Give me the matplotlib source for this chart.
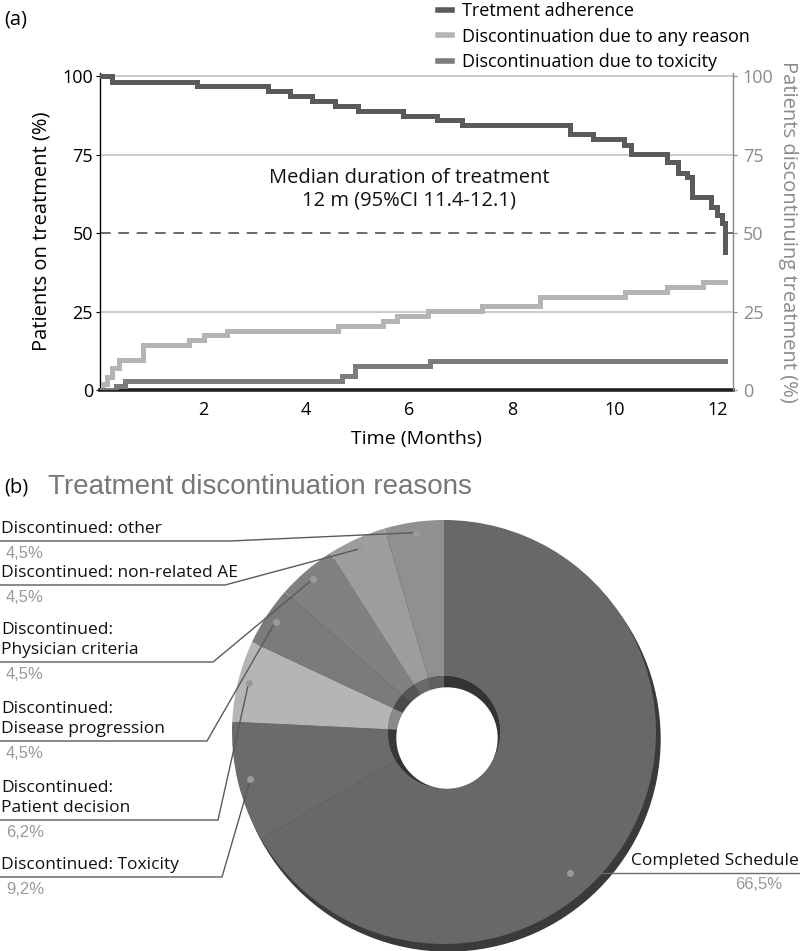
import numpy as np
import matplotlib
matplotlib.use("Agg")
import matplotlib.pyplot as plt
from matplotlib.lines import Line2D
from matplotlib.patches import Circle

# ---- panel (a): step curves (months, %) ----
adh_t = [0, 0.23, 1.88, 3.27, 3.69, 4.11, 4.56, 5.01, 5.89, 6.55, 7.02, 9.13, 9.57,
         10.17, 10.30, 11.00, 11.22, 11.39, 11.49, 11.87, 11.97, 12.07, 12.14]
adh_v = [100, 98.2, 96.9, 95.3, 93.7, 92.1, 90.5, 88.9, 87.4, 85.9, 84.4, 81.5, 79.9,
         78.0, 75.1, 72.7, 69.0, 67.9, 61.6, 58.4, 55.7, 53.1, 44.0]

any_t = [0, 0.06, 0.14, 0.24, 0.36, 0.84, 1.72, 2.01, 2.46, 4.63, 5.50, 5.76, 6.37,
         7.41, 8.54, 10.19, 11.00, 11.71, 12.14]
any_v = [0, 2.0, 4.0, 7.0, 9.5, 14.3, 16.0, 17.5, 18.8, 20.4, 22.0, 23.6, 25.2,
         26.8, 29.5, 31.1, 32.7, 34.3, 34.3]

tox_t = [0, 0.32, 0.49, 4.69, 4.95, 6.41, 12.14]
tox_v = [0, 1.3, 3.0, 4.6, 7.6, 9.3, 9.3]

series_names = ["Tretment adherence", "Discontinuation due to any reason",
                "Discontinuation due to toxicity"]
series_colors = ["#5a5a5a", "#b4b4b4", "#7c7c7c"]

# ---- panel (b): discontinuation reasons ----
reasons = ["Completed Schedule", "Discontinued: Toxicity", "Discontinued:\nPatient decision",
           "Discontinued:\nDisease progression", "Discontinued:\nPhysician criteria",
           "Discontinued: non-related AE", "Discontinued: other"]
shares = [66.5, 9.2, 6.2, 4.5, 4.5, 4.5, 4.5]
share_text = ["66,5%", "9,2%", "6,2%", "4,5%", "4,5%", "4,5%", "4,5%"]
wedge_colors = ["#686868", "#6b6b6b", "#b5b5b5", "#7b7b7b", "#818181", "#9d9d9d", "#909090"]
rim_colors = ["#333333", "#383838", "#8a8a8a", "#4a4a4a", "#555555", "#6a6a6a", "#606060"]

W, H = 800, 951
body = ["Open Sans", "DejaVu Sans"]
arial = ["Liberation Sans", "DejaVu Sans"]

plt.rcParams["font.family"] = body

fig = plt.figure(figsize=(W / 100, H / 100), dpi=100)


def fx(x):
    return x / W


def fy(y):
    return 1 - y / H


# ================= panel (a) =================
ax = fig.add_axes([fx(100), fy(390), (733 - 100) / W, (390 - 73) / H])
ax.set_xlim(0, 12.29)
ax.set_ylim(0, 101)

for yy in (25, 75, 100):
    ax.axhline(yy, color="#c8c8c8", lw=1.3, zorder=1)
ax.axhline(50, color="#444444", lw=1.1, ls=(0, (7, 5)), zorder=1)

for t, v, c in zip((adh_t, any_t, tox_t), (adh_v, any_v, tox_v), series_colors):
    ax.step(t, v, where="post", color=c, lw=3.6, zorder=3, solid_joinstyle="miter")

ax.spines["top"].set_visible(False)
ax.spines["right"].set_visible(False)
ax.spines["left"].set_linewidth(1.0)
ax.spines["bottom"].set_linewidth(2.6)
ax.spines["bottom"].set_color("#222222")

ax.set_xticks([2, 4, 6, 8, 10, 12])
ax.set_yticks([0, 25, 50, 75, 100])
ax.tick_params(axis="x", length=0, pad=8, labelsize=13)
ax.tick_params(axis="y", length=3, width=0.8, pad=2, labelsize=13)
ax.set_xlabel("Time (Months)", fontsize=14, labelpad=8)
ax.set_ylabel("Patients on treatment (%)", fontsize=14.5, labelpad=8)

ax2 = ax.twinx()
ax2.set_ylim(0, 101)
ax2.set_yticks([0, 25, 50, 75, 100])
for s in ("top", "left", "bottom"):
    ax2.spines[s].set_visible(False)
ax2.spines["right"].set_color("#8a8a8a")
ax2.spines["right"].set_linewidth(1.0)
ax2.tick_params(axis="y", colors="#8a8a8a", length=3, width=0.8, labelsize=13, pad=4)
ax2.set_ylabel("Patients discontinuing treatment (%)", color="#8a8a8a", fontsize=14.5,
               rotation=-90, labelpad=18)

ax.text(6.0, 70.6, "Median duration of treatment\n12 m (95%CI 11.4-12.1)", ha="center",
        va="top", fontsize=14.5, linespacing=1.15, color="#111111")

handles = [Line2D([], [], color=c, lw=4) for c in series_colors]
fig.legend(handles, series_names, loc="upper left", bbox_to_anchor=(fx(438), fy(2)),
           frameon=False, handlelength=0.75, handletextpad=0.6,
           labelspacing=0.42, borderpad=0, borderaxespad=0, prop={"size": 13})

fig.text(fx(4), fy(20), "(a)", fontsize=14.5, va="center", ha="left")

# ================= panel (b) =================
CX, CY, R = 444, 732, 212
axp = fig.add_axes([0, 0, 1, (H - 500) / H])


def pd(x, y):
    return (x - CX) / R, (CY - y) / R


axp.add_patch(Circle((4 / R, -7 / R), 1.0, color="#3a3a3a", zorder=1))
wedges, _ = axp.pie(shares, colors=wedge_colors, startangle=90, counterclock=False,
                    radius=1.0, wedgeprops=dict(width=1 - 56 / R, linewidth=0))
for w in wedges:
    w.set_zorder(2)
rims, _ = axp.pie(shares, colors=rim_colors, startangle=90, counterclock=False,
                  radius=56 / R, wedgeprops=dict(linewidth=0))
for w in rims:
    w.set_zorder(2)
axp.add_patch(Circle((3 / R, -6 / R), 50 / R, color="white", zorder=3))

axp.set_xlim(pd(0, 0)[0], pd(W, 0)[0])
axp.set_ylim(pd(0, H)[1], pd(0, 500)[1])
axp.set_aspect("equal")
axp.axis("off")

# label layout: (underline y px, underline end x px)
left_layout = {1: (877, 222), 2: (820, 218), 3: (741, 207), 4: (662, 213),
               5: (585, 225), 6: (541, 230)}
dot_frac = [0.576, 0.5, 0.5, 0.5, 0.5, 0.5, 0.5]
dot_rad = [0.89, 0.94, 0.95, 0.95, 0.95, 0.95, 0.95]

for i, w in enumerate(wedges):
    ang = np.deg2rad(w.theta2 - dot_frac[i] * (w.theta2 - w.theta1))
    dx, dy = dot_rad[i] * np.cos(ang), dot_rad[i] * np.sin(ang)
    if i == 0:
        uy = 873
        x0, y0 = pd(W, uy)
        axp.plot([x0, dx], [y0, y0], color="#6a6a6a", lw=1.0, zorder=4, clip_on=False)
        dy = y0
        axp.text(*pd(W - 1, uy - 4), reasons[i], ha="right", va="bottom", fontsize=12.5,
                 color="#111111")
        axp.text(*pd(W - 18, uy + 4), share_text[i], ha="right", va="top", fontsize=12,
                 family=arial, color="#999999")
    else:
        uy, ux = left_layout[i]
        xa, ya = pd(0, uy)
        xb, yb = pd(ux, uy)
        axp.plot([xa, xb, dx], [ya, yb, dy], color="#5a5a5a", lw=1.0, zorder=4, clip_on=False)
        axp.text(*pd(1, uy - 4), reasons[i], ha="left", va="bottom", fontsize=12.5,
                 color="#111111", linespacing=1.3)
        axp.text(*pd(6, uy + 5), share_text[i], ha="left", va="top", fontsize=12,
                 family=arial, color="#999999")
    axp.plot(dx, dy, "o", color="#9a9a9a", ms=4, zorder=5)

fig.text(fx(4), fy(487), "(b)", fontsize=14.5, va="center", ha="left")
fig.text(fx(48), fy(487), "Treatment discontinuation reasons", fontsize=20, va="center",
         ha="left", color="#777777", family=arial)

fig.savefig("out.png", dpi=100)
